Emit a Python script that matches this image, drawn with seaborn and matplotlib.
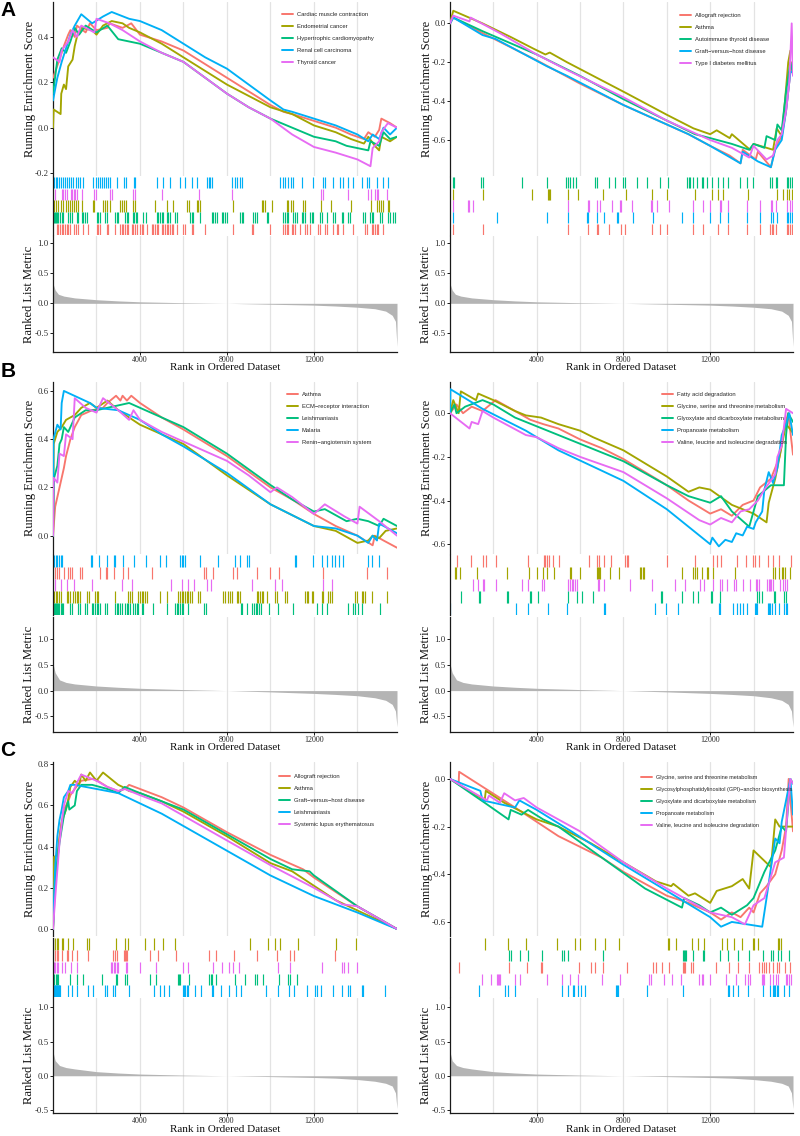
import numpy as np
import pandas as pd
import matplotlib
matplotlib.use("Agg")
import matplotlib.pyplot as plt
from matplotlib.lines import Line2D
import seaborn as sns

sns.set_theme(style="white")
plt.rcParams["font.family"] = ["Liberation Serif", "DejaVu Serif"]

# ------------------------------------------------------------------ data
N_RANK = 15820
PALETTE = ["#F8766D", "#A3A500", "#00BF7D", "#00B0F6", "#E76BF3"]
GRID_TICKS = [2000, 4000, 6000, 8000, 10000, 12000, 14000]
X_TICKS = [4000, 8000, 12000]
X_TICK_LABELS = ["4000", "8000", "12000"]
RANK_TICKS = [-0.5, 0.0, 0.5, 1.0]

# ---- ranked list metrics (rank, value)
metric_A = [(0, 0.33), (100, 0.22), (250, 0.15), (500, 0.12), (1000, 0.09), (2000, 0.06), (3000, 0.04),
            (4000, 0.025), (6000, 0.01), (8000, 0.0), (10000, -0.015), (12000, -0.03), (13000, -0.045),
            (14000, -0.065), (14800, -0.09), (15300, -0.13), (15600, -0.2), (15750, -0.3), (15820, -0.72)]
metric_B = [(0, 0.53), (100, 0.35), (300, 0.21), (600, 0.16), (1000, 0.13), (2000, 0.09), (3000, 0.065),
            (4000, 0.045), (6000, 0.02), (8000, 0.0), (10000, -0.025), (12000, -0.055), (13000, -0.075),
            (14000, -0.10), (14800, -0.14), (15300, -0.19), (15600, -0.27), (15750, -0.4), (15820, -0.71)]
metric_C = [(0, 0.35), (100, 0.22), (300, 0.15), (600, 0.12), (1000, 0.10), (2000, 0.06), (3000, 0.04),
            (4000, 0.025), (6000, 0.01), (8000, 0.0), (10000, -0.012), (12000, -0.025), (13000, -0.035),
            (14000, -0.055), (14800, -0.08), (15300, -0.11), (15600, -0.15), (15750, -0.25), (15820, -0.48)]

# ---- Panel A left
A1_sets = ["Cardiac muscle contraction", "Endometrial cancer", "Hypertrophic cardiomyopathy",
           "Renal cell carcinoma", "Thyroid cancer"]
A1_es_cardiac = [(0, 0.22), (300, 0.30), (500, 0.36), (700, 0.41), (800, 0.43), (1000, 0.40), (1100, 0.45),
                 (1500, 0.42), (1700, 0.46), (2000, 0.43), (2500, 0.44), (2600, 0.46), (3200, 0.44), (3600, 0.46),
                 (4000, 0.41), (5000, 0.38), (6000, 0.34), (7000, 0.28), (8000, 0.22), (9000, 0.16), (10000, 0.10),
                 (10600, 0.07), (11000, 0.06), (12000, 0.03), (13000, 0.0), (13700, -0.03), (14300, -0.05),
                 (14500, -0.02), (14800, -0.04), (15000, -0.01), (15100, 0.04), (15500, 0.02), (15820, 0.0)]
A1_es_endometrial = [(0, 0.0), (30, 0.08), (350, 0.06), (380, 0.15), (500, 0.19), (600, 0.17), (700, 0.27),
                     (900, 0.30), (1000, 0.36), (1100, 0.40), (1300, 0.44), (1800, 0.43), (2000, 0.41),
                     (2300, 0.45), (2700, 0.47), (3200, 0.46), (3500, 0.44), (4000, 0.42), (5000, 0.37),
                     (6000, 0.31), (7000, 0.25), (8000, 0.19), (9000, 0.14), (10000, 0.09), (11000, 0.06),
                     (12000, 0.01), (13000, -0.02), (13700, -0.05), (14300, -0.07), (14500, -0.04), (14800, -0.08),
                     (15000, -0.10), (15100, -0.04), (15500, -0.06), (15820, -0.04)]
A1_es_hypertrophic = [(0, 0.15), (200, 0.30), (400, 0.35), (600, 0.33), (800, 0.38), (1000, 0.44), (1200, 0.41),
                      (1500, 0.45), (2000, 0.42), (2500, 0.45), (3000, 0.39), (4000, 0.37), (5000, 0.33),
                      (6000, 0.29), (7000, 0.22), (8000, 0.15), (9000, 0.09), (10000, 0.04), (11000, 0.0),
                      (12000, -0.04), (13000, -0.06), (13500, -0.08), (14000, -0.09), (14500, -0.10), (14600, -0.06),
                      (15000, -0.08), (15200, -0.02), (15500, -0.05), (15820, -0.04)]
A1_es_renal = [(0, 0.12), (200, 0.22), (400, 0.29), (600, 0.35), (800, 0.41), (1000, 0.45), (1300, 0.50),
               (1800, 0.46), (2300, 0.49), (2700, 0.51), (3500, 0.48), (4000, 0.47), (5000, 0.43), (6000, 0.37),
               (7000, 0.31), (8000, 0.26), (9000, 0.19), (10000, 0.12), (10600, 0.08), (11000, 0.07),
               (12000, 0.04), (13000, 0.01), (14000, -0.03), (14500, -0.06), (14700, -0.03), (15000, -0.05),
               (15200, 0.0), (15500, -0.03), (15820, 0.0)]
A1_es_thyroid = [(0, 0.31), (300, 0.29), (400, 0.34), (700, 0.38), (900, 0.43), (1100, 0.40), (1300, 0.45),
                 (1900, 0.42), (2000, 0.48), (2600, 0.46), (3200, 0.43), (4000, 0.38), (5000, 0.33), (6000, 0.29),
                 (7000, 0.22), (8000, 0.15), (9000, 0.09), (10000, 0.04), (11000, -0.03), (12000, -0.085),
                 (13000, -0.11), (14000, -0.14), (14600, -0.17), (14700, -0.09), (15000, -0.06), (15100, -0.02),
                 (15400, 0.02), (15820, 0.0)]
A1_hits_cardiac = [169, 245, 322, 399, 475, 552, 629, 705, 782, 966, 1058, 1165, 1395, 1625, 2008, 2085, 2162,
                   2499, 2545, 2851, 3081, 3158, 3235, 3311, 3388, 3464, 3618, 3694, 3771, 3848, 4001, 4077, 4154,
                   4307, 4537, 4614, 4691, 4768, 4844, 4998, 5074, 5151, 5227, 5304, 5381, 5457, 5534, 5687, 5994,
                   6071, 6377, 6454, 6990, 8294, 9137, 9213, 9980, 10593, 10670, 10746, 10823, 10976, 11053,
                   11130, 11360, 11589, 11666, 11819, 12202, 12279, 12509, 12586, 12893, 13046, 13123, 13352,
                   13812, 14349, 14425, 14655, 14732, 14808, 14885, 14962, 15192]
A1_hits_endometrial = [46, 123, 245, 352, 475, 598, 706, 782, 859, 966, 1058, 1165, 1318, 1855, 1901, 2315, 2391,
                       2498, 2621, 3081, 3158, 3265, 3357, 3694, 3771, 4691, 5227, 5534, 6147, 6254, 6607, 6684,
                       6760, 8294, 9597, 9673, 9750, 10057, 10746, 10823, 10930, 11053, 11513, 11589, 12325,
                       12785, 13705, 14625, 14900, 14977, 15084, 15161, 15391, 15467]
A1_hits_hypertrophic = [46, 92, 138, 199, 245, 322, 399, 475, 705, 782, 858, 1088, 1165, 1318, 1395, 1472, 1579,
                        2008, 2085, 2162, 2391, 2468, 2851, 2928, 3005, 3311, 3388, 3464, 3694, 3740, 3802, 3848,
                        4154, 4277, 4768, 4844, 4921, 4998, 5074, 5227, 5304, 5381, 5611, 5687, 6300, 6377, 6454,
                        6760, 7297, 7374, 7450, 7527, 7757, 7833, 7910, 7987, 8600, 8677, 8753, 9213, 9290, 9367,
                        9826, 9903, 10593, 10670, 10746, 10823, 11053, 11130, 11206, 11436, 11513, 11589, 11819,
                        11896, 11972, 12279, 12356, 12586, 12893, 12969, 13276, 13352, 13582, 13659, 14272, 14349,
                        14579, 14655, 14732, 15039, 15115, 15422, 15498, 15651, 15728]
A1_hits_renal = [46, 123, 199, 291, 368, 445, 552, 629, 736, 828, 935, 1058, 1165, 1242, 1395, 1855, 1978, 2085,
                 2162, 2238, 2346, 2437, 2545, 2622, 2928, 3265, 3357, 3725, 3771, 4768, 5074, 5380, 5841, 6071,
                 6377, 6638, 7098, 7159, 7220, 7312, 8248, 8371, 8478, 8601, 8708, 10440, 10562, 10685, 10792,
                 10930, 11053, 11436, 11973, 12402, 12509, 12862, 13199, 13322, 13582, 13812, 14196, 14425,
                 14548, 14885, 15161, 15422]
A1_hits_thyroid = [92, 399, 475, 552, 629, 813, 859, 966, 1012, 1089, 1318, 1886, 1978, 2621, 2698, 3694, 3771,
                   4998, 6714, 8248, 12310, 12402, 13582, 14502, 14609, 14808, 14885, 14962, 15345]

# ---- Panel A right
A2_sets = ["Allograft rejection", "Asthma", "Autoimmune thyroid disease", "Graft\u2212versus\u2212host disease",
           "Type I diabetes mellitus"]
A2_es_allograft = [(0, 0.0), (150, 0.03), (1500, -0.05), (4000, -0.19), (6000, -0.31), (8000, -0.42),
                   (10000, -0.52), (11000, -0.57), (12000, -0.63), (12900, -0.68), (13400, -0.72), (13500, -0.65),
                   (14100, -0.70), (14200, -0.66), (14800, -0.74), (15000, -0.64), (15300, -0.58), (15500, -0.45),
                   (15650, -0.30), (15750, -0.20), (15820, -0.23)]
A2_es_asthma = [(0, 0.0), (150, 0.065), (1500, 0.0), (2800, -0.07), (3850, -0.13), (4400, -0.16), (4600, -0.15),
                (5400, -0.20), (8150, -0.36), (10000, -0.47), (11230, -0.54), (12000, -0.57), (12300, -0.55),
                (12900, -0.59), (13000, -0.57), (13840, -0.65), (14000, -0.62), (14900, -0.65), (15070, -0.54),
                (15300, -0.58), (15450, -0.40), (15600, -0.20), (15700, -0.14)]
A2_es_autoimmune = [(0, 0.0), (150, 0.03), (1500, -0.04), (4000, -0.16), (6000, -0.27), (8000, -0.39),
                    (10000, -0.50), (11300, -0.57), (12000, -0.59), (13000, -0.62), (13800, -0.65), (14000, -0.62),
                    (14500, -0.64), (14600, -0.58), (15000, -0.60), (15100, -0.52), (15300, -0.55), (15500, -0.35),
                    (15700, -0.20), (15820, -0.26)]
A2_es_gvhd = [(0, 0.0), (150, 0.03), (1500, -0.06), (2100, -0.08), (4460, -0.22), (5400, -0.27), (8000, -0.42),
              (10000, -0.52), (11000, -0.57), (12000, -0.63), (13400, -0.72), (13500, -0.66), (14200, -0.71),
              (14800, -0.74), (15000, -0.65), (15300, -0.60), (15500, -0.45), (15700, -0.25), (15820, -0.25)]
A2_es_diabetes = [(0, 0.0), (150, 0.04), (900, 0.01), (950, 0.03), (2300, -0.05), (4000, -0.16), (5400, -0.24),
                  (8000, -0.38), (10000, -0.50), (12000, -0.60), (13000, -0.64), (13800, -0.69), (14000, -0.63),
                  (14600, -0.70), (14900, -0.68), (15100, -0.60), (15300, -0.57), (15500, -0.45), (15650, -0.30),
                  (15760, 0.0), (15820, -0.27)]
A2_hits_allograft = [154, 1507, 5460, 6352, 6767, 6844, 7352, 7875, 8075, 9305, 9689, 9997, 11227, 11689, 12381,
                     12842, 13719, 14303, 14765, 14842, 14919, 15042, 15534, 15611, 15688, 15765]
A2_hits_asthma = [154, 1507, 3768, 4506, 4568, 4614, 5460, 5921, 7044, 8121, 9305, 9997, 11305, 12104, 12381,
                  12612, 13765, 15073, 15380, 15534, 15657, 15765]
A2_hits_autoimmune = [154, 200, 1430, 1507, 3307, 4460, 5337, 5430, 5537, 5691, 5798, 6690, 6767, 7352, 7613,
                      7998, 8075, 8644, 9074, 9689, 10074, 10951, 11012, 11074, 11227, 11412, 11612, 11689, 11843,
                      12073, 12381, 12581, 12842, 13381, 13688, 13965, 14765, 14842, 15042, 15104, 15534, 15611,
                      15688, 15765, 15800]
A2_hits_gvhd = [154, 2184, 4460, 5460, 6306, 6352, 6767, 7121, 7690, 7767, 8428, 9382, 10689, 11227, 11996,
                12458, 12842, 13688, 14303, 14796, 14888, 15073, 15534, 15611, 15688, 15765]
A2_hits_diabetes = [154, 846, 892, 1046, 5460, 6352, 6398, 6767, 6921, 7490, 7844, 7890, 8382, 9259, 9305, 9536,
                    10120, 11227, 11689, 11996, 12458, 12504, 12842, 13719, 14303, 14796, 14842, 15042, 15534,
                    15688, 15765]

# ---- Panel B left
B1_sets = ["Asthma", "ECM\u2212receptor interaction", "Leishmaniasis", "Malaria", "Renin\u2212angiotensin system"]
B1_es_asthma = [(0, 0.0), (100, 0.12), (300, 0.20), (500, 0.28), (600, 0.33), (800, 0.40), (1000, 0.45),
                (1300, 0.50), (1800, 0.52), (2300, 0.53), (2500, 0.55), (2900, 0.58), (3100, 0.56), (3200, 0.58),
                (3400, 0.56), (3600, 0.58), (4000, 0.55), (5000, 0.49), (6000, 0.44), (8000, 0.33), (10000, 0.20),
                (11000, 0.15), (12000, 0.09), (13000, 0.04), (14000, 0.0), (14700, -0.04), (14800, 0.0),
                (15200, -0.02), (15820, -0.05)]
B1_es_ecm = [(0, 0.0), (30, 0.38), (200, 0.43), (400, 0.45), (600, 0.48), (1000, 0.50), (1300, 0.53),
             (1700, 0.55), (2000, 0.53), (2500, 0.56), (3000, 0.52), (3500, 0.49), (4000, 0.46), (5000, 0.42),
             (6000, 0.38), (8000, 0.25), (10000, 0.13), (12000, 0.04), (13000, 0.02), (14000, -0.03),
             (14500, -0.02), (14700, 0.0), (15000, -0.01), (15300, 0.02), (15820, 0.03)]
B1_es_leish = [(0, 0.0), (50, 0.24), (200, 0.29), (300, 0.38), (400, 0.40), (500, 0.45), (700, 0.43),
               (1000, 0.49), (1500, 0.52), (2000, 0.52), (2500, 0.53), (3000, 0.54), (3500, 0.55), (4000, 0.53),
               (5000, 0.49), (6000, 0.45), (8000, 0.34), (10000, 0.21), (11000, 0.15), (12000, 0.10),
               (12500, 0.11), (13500, 0.06), (14000, 0.07), (14500, 0.06), (15000, 0.04), (15200, 0.07),
               (15820, 0.04)]
B1_es_malaria = [(0, 0.0), (20, 0.40), (200, 0.46), (350, 0.44), (400, 0.55), (500, 0.60), (1700, 0.55),
                 (2000, 0.53), (3000, 0.52), (4000, 0.48), (5000, 0.42), (6000, 0.37), (8000, 0.26), (10000, 0.13),
                 (12000, 0.04), (13000, 0.03), (14000, 0.0), (14500, -0.03), (14700, 0.0), (14900, -0.02),
                 (15000, 0.05), (15820, 0.01)]
B1_es_renin = [(0, 0.0), (30, 0.24), (200, 0.22), (300, 0.34), (500, 0.33), (600, 0.42), (900, 0.40),
               (1000, 0.57), (1500, 0.53), (2000, 0.51), (2300, 0.57), (3000, 0.52), (3500, 0.48), (3700, 0.52),
               (4000, 0.48), (5000, 0.43), (6000, 0.39), (8000, 0.31), (9000, 0.25), (10000, 0.18), (10300, 0.20),
               (11000, 0.16), (12000, 0.09), (12500, 0.13), (13400, 0.08), (14000, 0.05), (14100, 0.12),
               (15000, 0.06), (15820, 0.0)]
B1_hits_asthma = [92, 169, 291, 521, 705, 782, 858, 1242, 1318, 2162, 2437, 2499, 2805, 3235, 3464, 4537, 6944,
                  7021, 7374, 8263, 8447, 9367, 9980, 10409, 12433, 14425, 15345]
B1_hits_ecm = [46, 123, 199, 276, 353, 629, 705, 782, 905, 1012, 1088, 1165, 1242, 1579, 1671, 1932, 2008, 2085,
               2851, 3464, 3541, 3618, 3925, 4001, 4077, 4154, 4231, 4307, 4921, 5227, 5764, 5840, 5917, 5994,
               6071, 6147, 6224, 6300, 6377, 6684, 6760, 7834, 7910, 8064, 8140, 8217, 8447, 8523, 8600, 9367,
               9443, 9520, 9597, 9673, 9826, 10210, 10286, 10670, 10746, 11589, 11666, 11742, 11896, 11972,
               12356, 12433, 12663, 12739, 12816, 13889, 13965, 14196, 14272, 14349, 14655, 15345]
B1_hits_leish = [46, 92, 138, 199, 245, 291, 353, 399, 445, 782, 858, 1165, 1242, 1472, 1548, 1779, 1855, 1932,
                 2008, 2085, 2162, 2391, 2468, 2851, 2928, 3005, 3081, 3158, 3311, 3388, 3464, 3541, 3694, 3771,
                 3848, 3925, 4077, 4154, 4583, 5227, 5611, 5687, 5764, 5840, 5917, 5994, 6224, 6944, 7021, 8631,
                 8707, 8937, 9167, 9244, 9321, 9397, 9474, 9551, 9949, 10363, 11022, 12126, 12356, 12586, 13582,
                 13812, 13889, 14042, 14196, 15039]
B1_hits_malaria = [15, 61, 123, 199, 276, 353, 429, 1732, 1809, 2131, 2468, 2805, 2851, 3235, 3741, 4277, 4921,
                   5181, 5840, 5917, 5994, 6071, 6760, 7603, 8370, 8600, 8937, 9014, 11114, 11191, 11972, 12356,
                   12586, 12816, 12969, 13169, 13352, 14502, 14655, 15008]
B1_hits_renin = [92, 353, 629, 966, 1779, 3158, 3618, 5411, 5917, 6224, 6484, 7067, 7251, 9137, 10210, 10516,
                 12433, 12816]

# ---- Panel B right
B2_sets = ["Fatty acid degradation", "Glycine, serine and threonine metabolism",
           "Glyoxylate and dicarboxylate metabolism", "Propanoate metabolism",
           "Valine, leucine and isoleucine degradation"]
B2_es_fatty = [(0, 0.0), (300, 0.04), (600, 0.0), (1000, 0.03), (1500, 0.01), (2100, 0.06), (3000, 0.01),
               (3700, -0.03), (4300, -0.05), (5000, -0.07), (6000, -0.12), (7000, -0.16), (8000, -0.21),
               (9000, -0.27), (10000, -0.33), (11000, -0.40), (12000, -0.46), (12500, -0.44), (13000, -0.47),
               (13500, -0.42), (14000, -0.40), (14300, -0.34), (14800, -0.30), (15000, -0.25), (15200, -0.20),
               (15450, -0.05), (15600, 0.0), (15820, -0.19)]
B2_es_glycine = [(0, 0.0), (150, 0.06), (400, 0.0), (500, 0.10), (1200, 0.06), (1300, 0.09), (2000, 0.06),
                 (3000, 0.01), (3500, -0.01), (4200, -0.02), (5000, -0.05), (6000, -0.08), (6600, -0.11),
                 (8000, -0.17), (10000, -0.29), (11000, -0.36), (11500, -0.34), (12000, -0.35), (13000, -0.42),
                 (14000, -0.46), (14600, -0.50), (14700, -0.41), (15000, -0.30), (15300, -0.15), (15500, -0.05),
                 (15820, -0.09)]
B2_es_glyoxylate = [(0, 0.0), (200, 0.04), (300, 0.0), (700, 0.03), (1500, 0.06), (2000, 0.04), (3000, -0.02),
                    (4000, -0.06), (5000, -0.10), (6000, -0.14), (8000, -0.22), (10000, -0.33), (11000, -0.38),
                    (12000, -0.41), (12500, -0.38), (13000, -0.45), (13800, -0.52), (14000, -0.45), (14200, -0.38),
                    (14800, -0.33), (15400, -0.33), (15500, -0.10), (15600, 0.0), (15820, -0.04)]
B2_es_propanoate = [(0, 0.0), (20, 0.11), (1500, 0.02), (3500, -0.08), (5000, -0.17), (8000, -0.31),
                    (10000, -0.44), (12000, -0.60), (12100, -0.57), (12400, -0.61), (12700, -0.58), (13000, -0.59),
                    (13200, -0.55), (13500, -0.56), (13700, -0.52), (14000, -0.53), (14100, -0.50), (14400, -0.45),
                    (14500, -0.35), (14700, -0.27), (14900, -0.32), (15100, -0.25), (15300, -0.10), (15500, -0.05),
                    (15650, 0.0), (15820, -0.10)]
B2_es_valine = [(0, 0.0), (900, -0.07), (1000, -0.04), (1300, -0.05), (1500, 0.01), (2000, -0.02), (3500, -0.10),
                (4000, -0.11), (5000, -0.16), (6000, -0.20), (8000, -0.27), (10000, -0.39), (11500, -0.49),
                (12000, -0.51), (12500, -0.48), (13000, -0.50), (13400, -0.45), (13800, -0.44), (14200, -0.40),
                (14500, -0.35), (15000, -0.28), (15100, -0.20), (15300, -0.15), (15500, 0.02), (15820, 0.0)]
B2_hits_fatty = [338, 969, 1538, 1661, 2122, 3614, 4337, 4399, 4460, 4568, 4737, 5045, 6429, 6767, 6890, 7106,
                 7413, 8075, 8152, 8228, 10028, 11304, 12120, 12304, 12489, 13227, 13658, 13996, 14073, 14273,
                 14688, 14919, 15196, 15719]
B2_hits_glycine = [231, 277, 461, 1230, 2615, 3660, 3999, 4276, 4491, 4814, 5537, 5583, 5998, 6767, 6813, 6859,
                   6905, 7382, 7813, 8767, 8828, 8890, 8951, 10689, 11227, 11304, 11381, 11612, 11843, 11920,
                   12150, 13150, 14919, 14996, 15180, 15303, 15380, 15457, 15688]
B2_hits_glyoxylate = [492, 1338, 1384, 2615, 2661, 3691, 3737, 4045, 5460, 5845, 6075, 6583, 9720, 9797, 10689,
                      11197, 11458, 12027, 12073, 12458, 14181, 14258, 14381, 14950, 15011, 15411, 15503]
B2_hits_propanoate = [10, 3045, 3614, 4506, 5414, 7106, 7152, 9459, 9966, 10535, 12427, 12474, 13073, 13258,
                      13381, 13535, 13720, 14073, 14119, 14181, 14657, 14719, 14780, 14842, 14996, 15196, 15411,
                      15503, 15565]
B2_hits_valine = [1077, 1307, 1538, 1584, 2122, 3307, 3614, 4230, 4337, 5460, 5537, 5614, 5691, 5768, 5845,
                  6813, 6875, 7106, 8305, 9305, 10382, 10843, 11535, 11720, 12120, 12458, 12535, 12796, 13104,
                  13181, 13535, 13842, 14119, 14181, 14242, 14642, 14704, 14765, 14827, 14919, 15227, 15380,
                  15457, 15534]

# ---- Panel C left
C1_sets = ["Allograft rejection", "Asthma", "Graft\u2212versus\u2212host disease", "Leishmaniasis",
           "Systemic lupus erythematosus"]
C1_es_allograft = [(0, 0.0), (100, 0.20), (300, 0.45), (500, 0.58), (700, 0.62), (800, 0.65), (1000, 0.68),
                   (1300, 0.72), (1900, 0.73), (2500, 0.69), (3000, 0.67), (3300, 0.68), (3500, 0.70), (5000, 0.64),
                   (6000, 0.59), (8000, 0.47), (10000, 0.36), (11500, 0.29), (12000, 0.25), (14000, 0.11),
                   (15820, 0.0)]
C1_es_asthma = [(0, 0.0), (50, 0.35), (200, 0.36), (400, 0.52), (600, 0.58), (700, 0.63), (800, 0.69),
                (1000, 0.72), (1200, 0.70), (1300, 0.75), (1500, 0.72), (1700, 0.76), (2000, 0.72), (2300, 0.76),
                (3000, 0.70), (3200, 0.69), (3500, 0.67), (4000, 0.66), (5000, 0.62), (6000, 0.57), (8000, 0.45),
                (10000, 0.32), (11000, 0.28), (12000, 0.21), (13000, 0.14), (14000, 0.09), (15820, 0.0)]
C1_es_gvhd = [(0, 0.0), (100, 0.25), (300, 0.42), (500, 0.55), (700, 0.62), (750, 0.58), (1000, 0.60),
              (1100, 0.67), (1300, 0.70), (1800, 0.70), (2500, 0.68), (3000, 0.66), (3300, 0.69), (4000, 0.66),
              (6000, 0.58), (8000, 0.46), (10000, 0.34), (11000, 0.29), (11800, 0.28), (12000, 0.26),
              (14000, 0.11), (15820, 0.0)]
C1_es_leish = [(0, 0.0), (100, 0.30), (200, 0.45), (300, 0.53), (400, 0.58), (500, 0.64), (700, 0.67),
               (800, 0.70), (1000, 0.70), (1500, 0.69), (2000, 0.68), (3000, 0.66), (4000, 0.61), (5000, 0.56),
               (6000, 0.50), (8000, 0.38), (10000, 0.26), (12000, 0.16), (13000, 0.12), (14000, 0.08),
               (15350, 0.02), (15820, 0.0)]
C1_es_sle = [(0, 0.0), (100, 0.15), (300, 0.42), (500, 0.60), (700, 0.67), (900, 0.66), (1100, 0.71),
             (1300, 0.75), (2000, 0.72), (2500, 0.69), (3000, 0.67), (3300, 0.68), (4000, 0.65), (5000, 0.61),
             (6000, 0.55), (8000, 0.43), (10000, 0.31), (12000, 0.20), (13000, 0.14), (13300, 0.12),
             (14000, 0.11), (15820, 0.0)]
C1_hits_allograft = [15, 92, 169, 245, 399, 629, 705, 858, 1088, 1625, 2775, 2851, 2928, 3265, 3311, 3357, 3418,
                     4461, 4844, 5641, 7174, 7481, 8340, 9367, 10317, 10900, 11083, 12969]
C1_hits_asthma = [5, 15, 92, 169, 245, 399, 475, 705, 905, 1579, 1671, 2897, 3311, 3464, 4231, 4660, 5043,
                  5611, 9060, 9873, 10210, 10440, 11283, 13000, 13919]
C1_hits_gvhd = [15, 61, 123, 184, 245, 782, 1088, 1395, 2269, 2897, 2959, 3311, 3388, 4461, 4721, 5733, 5795,
                5856, 6270, 7174, 7251, 7328, 7496, 8370, 8830, 9290, 9367, 9673, 10394, 10823, 10900, 11206]
C1_hits_leish = [15, 46, 77, 107, 138, 169, 199, 230, 261, 291, 322, 705, 858, 1119, 1625, 1825, 2391, 2468,
                 2775, 2851, 3510, 4660, 4921, 5120, 5350, 5994, 6040, 6086, 6147, 6193, 6531, 6791, 7328, 7374,
                 7711, 8110, 8401, 8646, 9781, 10333, 10854, 11099, 11666, 12049, 12126, 12325, 12893, 13276,
                 13582, 13659, 14196, 14272, 15269]
C1_hits_sle = [15, 61, 107, 169, 245, 399, 552, 812, 1088, 2667, 2729, 2790, 2851, 2928, 3005, 3357, 3418, 4001,
               4737, 5963, 6224, 7374, 7788, 8110, 8263, 8570, 10363, 10900, 12356, 13306, 13383, 13582, 13996]

# ---- Panel C right
C2_sets = ["Glycine, serine and threonine metabolism",
           "Glycosylphosphatidylinositol (GPI)\u2212anchor biosynthesis",
           "Glyoxylate and dicarboxylate metabolism", "Propanoate metabolism",
           "Valine, leucine and isoleucine degradation"]
C2_es_glycine = [(0, 0.0), (400, -0.02), (420, 0.03), (3000, -0.12), (5000, -0.24), (7000, -0.33), (8000, -0.39),
                 (10000, -0.49), (11000, -0.52), (12000, -0.56), (12500, -0.59), (13000, -0.56), (13400, -0.58),
                 (13800, -0.54), (14000, -0.56), (14300, -0.48), (14600, -0.45), (15000, -0.40), (15300, -0.30),
                 (15500, -0.20), (15620, 0.0), (15820, -0.22)]
C2_es_gpi = [(0, 0.0), (1600, -0.09), (1650, -0.05), (2500, -0.10), (4000, -0.17), (5000, -0.20), (6500, -0.27),
             (8000, -0.35), (9500, -0.43), (10200, -0.45), (10300, -0.44), (11000, -0.49), (11300, -0.48),
             (12000, -0.52), (12300, -0.47), (13000, -0.45), (13500, -0.42), (13800, -0.46), (14000, -0.30),
             (14800, -0.37), (15000, -0.17), (15200, -0.20), (15820, -0.20)]
C2_es_glyoxylate = [(0, 0.0), (1600, -0.10), (2700, -0.17), (2800, -0.13), (3300, -0.15), (3600, -0.13),
                    (4300, -0.17), (5000, -0.20), (7000, -0.33), (9000, -0.46), (10700, -0.54), (10800, -0.50),
                    (11500, -0.53), (12000, -0.56), (12500, -0.54), (13000, -0.57), (13700, -0.53), (14000, -0.50),
                    (14500, -0.39), (15000, -0.30), (15300, -0.20), (15500, -0.22), (15700, 0.0), (15820, -0.02)]
C2_es_propanoate = [(0, 0.0), (1400, -0.05), (1500, -0.09), (2000, -0.10), (3000, -0.12), (3200, -0.09),
                    (4000, -0.13), (5600, -0.22), (8000, -0.36), (10000, -0.47), (12000, -0.58), (12500, -0.62),
                    (13000, -0.60), (14400, -0.62), (14600, -0.50), (15000, -0.25), (15200, -0.27), (15300, -0.18),
                    (15700, 0.0), (15820, -0.15)]
C2_es_valine = [(0, 0.0), (1700, -0.09), (1800, -0.07), (2300, -0.10), (2500, -0.06), (3000, -0.09),
                (3400, -0.08), (4000, -0.12), (6000, -0.22), (8000, -0.35), (10000, -0.46), (12000, -0.56),
                (13000, -0.58), (13600, -0.61), (14000, -0.53), (14500, -0.50), (15000, -0.35), (15400, -0.33),
                (15600, -0.10), (15700, 0.0), (15820, -0.02)]
C2_hits_glycine = [415, 2738, 3537, 4184, 4230, 5968, 6490, 6690, 7044, 8182, 9351, 9505, 9766, 10120, 10735,
                   10797, 10858, 11104, 11227, 12258, 12889, 13304, 13796, 14273, 14381, 14488, 14580, 14734,
                   14919, 15073, 15196, 15457, 15688]
C2_hits_gpi = [1615, 2692, 3507, 4952, 5768, 5998, 6690, 7152, 7813, 10043, 10105, 10412, 11150, 11427, 11735,
               12535, 12766, 13119, 13488, 13965, 14027, 14227, 15119, 15180, 15273]
C2_hits_glyoxylate = [2738, 2799, 3230, 3614, 4230, 5183, 5276, 5460, 7075, 10766, 10812, 10858, 10904, 11197,
                      11689, 11735, 12458, 12842, 13304, 13796, 14427, 14796, 14919, 15150, 15257, 15657]
C2_hits_propanoate = [1338, 2538, 2692, 2999, 5183, 5460, 5660, 5721, 5921, 6044, 6229, 7659, 7721, 7767, 9074,
                      10766, 12842, 12889, 13073, 13304, 13765, 14427, 14765, 14888, 14950, 15011, 15073, 15150,
                      15411, 15657]
C2_hits_valine = [1461, 1876, 2153, 2199, 2245, 2307, 2999, 3230, 4460, 5183, 5537, 5921, 7029, 7844, 9197, 9259,
                  9889, 10228, 10658, 11504, 11612, 11689, 11996, 12735, 13181, 13612, 13765, 13827, 14381, 14427,
                  14488, 14765, 14919, 15042, 15150, 15503, 15565, 15627, 15719]

# ------------------------------------------------------------------ layout (pixels)
W, H = 800, 1136
COLS = [(53, 397), (450, 793)]
ROWS = [dict(es=(2, 176), rug=(177, 235), rk=(236, 352)),
        dict(es=(382, 554), rug=(555, 615), rk=(617, 732)),
        dict(es=(762, 936), rug=(938, 997), rk=(998, 1113))]

PANELS = [
    dict(row=0, col=0, sets=A1_sets,
         es=[A1_es_cardiac, A1_es_endometrial, A1_es_hypertrophic, A1_es_renal, A1_es_thyroid],
         hits=[A1_hits_cardiac, A1_hits_endometrial, A1_hits_hypertrophic, A1_hits_renal, A1_hits_thyroid],
         band=[3, 4, 1, 2, 0], metric=metric_A, es_lim=(-0.213, 0.554), es_ticks=[-0.2, 0.0, 0.2, 0.4],
         rk_lim=(-0.81, 1.12), leg=(282, 11.5), leg_size=4.2),
    dict(row=0, col=1, sets=A2_sets,
         es=[A2_es_allograft, A2_es_asthma, A2_es_autoimmune, A2_es_gvhd, A2_es_diabetes],
         hits=[A2_hits_allograft, A2_hits_asthma, A2_hits_autoimmune, A2_hits_gvhd, A2_hits_diabetes],
         band=[2, 1, 4, 3, 0], metric=metric_A, es_lim=(-0.785, 0.11), es_ticks=[-0.6, -0.4, -0.2, 0.0],
         rk_lim=(-0.81, 1.12), leg=(680, 12.5), leg_size=4.2),
    dict(row=1, col=0, sets=B1_sets,
         es=[B1_es_asthma, B1_es_ecm, B1_es_leish, B1_es_malaria, B1_es_renin],
         hits=[B1_hits_asthma, B1_hits_ecm, B1_hits_leish, B1_hits_malaria, B1_hits_renin],
         band=[3, 0, 4, 1, 2], metric=metric_B, es_lim=(-0.076, 0.637), es_ticks=[0.0, 0.2, 0.4, 0.6],
         rk_lim=(-0.81, 1.44), leg=(287, 391.5), leg_size=4.2),
    dict(row=1, col=1, sets=B2_sets,
         es=[B2_es_fatty, B2_es_glycine, B2_es_glyoxylate, B2_es_propanoate, B2_es_valine],
         hits=[B2_hits_fatty, B2_hits_glycine, B2_hits_glyoxylate, B2_hits_propanoate, B2_hits_valine],
         band=[0, 1, 4, 2, 3], metric=metric_B, es_lim=(-0.645, 0.143), es_ticks=[-0.6, -0.4, -0.2, 0.0],
         rk_lim=(-0.81, 1.44), leg=(662, 391.5), leg_size=4.2),
    dict(row=2, col=0, sets=C1_sets,
         es=[C1_es_allograft, C1_es_asthma, C1_es_gvhd, C1_es_leish, C1_es_sle],
         hits=[C1_hits_allograft, C1_hits_asthma, C1_hits_gvhd, C1_hits_leish, C1_hits_sle],
         band=[1, 0, 4, 2, 3], metric=metric_C, es_lim=(-0.034, 0.811), es_ticks=[0.0, 0.2, 0.4, 0.6, 0.8],
         rk_lim=(-0.544, 1.136), leg=(279, 773.5), leg_size=4.2),
    dict(row=2, col=1, sets=C2_sets,
         es=[C2_es_glycine, C2_es_gpi, C2_es_glyoxylate, C2_es_propanoate, C2_es_valine],
         hits=[C2_hits_glycine, C2_hits_gpi, C2_hits_glyoxylate, C2_hits_propanoate, C2_hits_valine],
         band=[1, 2, 0, 4, 3], metric=metric_C, es_lim=(-0.659, 0.071), es_ticks=[-0.6, -0.4, -0.2, 0.0],
         rk_lim=(-0.544, 1.136), leg=(641, 775.0), leg_size=3.95),
]

LETTERS = [("A", 1), ("B", 362), ("C", 741)]

SPINE = "#1a1a1a"
GRID = "#e3e3e3"
TICKTXT = "#2b2b2b"
SANS = ["Liberation Sans", "DejaVu Sans"]

fig = plt.figure(figsize=(W / 100, H / 100), dpi=100)
fig.patch.set_facecolor("white")


def add_ax(x0, x1, ytop, ybot):
    return fig.add_axes([x0 / W, 1 - ybot / H, (x1 - x0) / W, (ybot - ytop) / H])


def style_common(ax):
    ax.set_facecolor("white")
    for s in ax.spines.values():
        s.set_visible(False)
    ax.spines["left"].set_visible(True)
    ax.spines["left"].set_color(SPINE)
    ax.spines["left"].set_linewidth(0.9)
    ax.set_xlim(0, N_RANK)
    ax.set_xlabel("")
    ax.set_ylabel("")


for p in PANELS:
    x0, x1 = COLS[p["col"]]
    rows = ROWS[p["row"]]

    # ---------------- running enrichment score
    ax = add_ax(x0, x1, *rows["es"])
    df = pd.DataFrame([(name, r, v) for name, pts in zip(p["sets"], p["es"]) for r, v in pts],
                      columns=["set", "rank", "es"])
    sns.lineplot(data=df, x="rank", y="es", hue="set", hue_order=p["sets"], palette=PALETTE,
                 sort=False, estimator=None, linewidth=1.35, legend=False, ax=ax, zorder=3)
    style_common(ax)
    ax.set_ylim(*p["es_lim"])
    ax.set_xticks(GRID_TICKS)
    ax.set_xticklabels([])
    ax.tick_params(axis="x", length=0)
    ax.grid(axis="x", color=GRID, linewidth=0.9, zorder=0)
    ax.grid(axis="y", visible=False)
    ax.set_yticks(p["es_ticks"])
    ax.set_yticklabels([f"{v:.1f}" for v in p["es_ticks"]])
    ax.tick_params(axis="y", length=2, width=0.7, color=SPINE, pad=1.2, labelsize=6.3,
                   labelcolor=TICKTXT, left=True)
    handles = [Line2D([0], [0], color=c, lw=1.4) for c in PALETTE]
    lx, ly = p["leg"]
    ax.legend(handles, p["sets"], loc="upper left", bbox_to_anchor=(lx / W, 1 - ly / H),
              bbox_transform=fig.transFigure, frameon=False, prop={"family": SANS, "size": p["leg_size"]},
              handlelength=1.85 * 4.2 / p["leg_size"], handletextpad=0.7,
              labelspacing=1.2 * 4.2 / p["leg_size"], borderpad=0, borderaxespad=0)
    yc = (rows["es"][0] + rows["es"][1]) / 2
    fig.text((x0 - 23) / W, 1 - yc / H, "Running Enrichment Score", rotation=90, ha="center", va="center",
             fontsize=9, color="#111111")

    # ---------------- rug of hits
    axr = add_ax(x0, x1, *rows["rug"])
    style_common(axr)
    axr.set_ylim(0, 5)
    for k, s in enumerate(p["band"]):
        axr.vlines(p["hits"][s], 4 - k + 0.02, 5 - k - 0.02, color=PALETTE[s], linewidth=0.85)
    axr.set_xticks([])
    axr.set_yticks([])
    axr.grid(False)

    # ---------------- ranked list metric
    axk = add_ax(x0, x1, *rows["rk"])
    style_common(axk)
    axk.spines["bottom"].set_visible(True)
    axk.spines["bottom"].set_color(SPINE)
    axk.spines["bottom"].set_linewidth(0.9)
    mx = [m[0] for m in p["metric"]]
    my = [m[1] for m in p["metric"]]
    axk.fill_between(mx, 0, my, color="#b4b4b4", linewidth=0, zorder=2)
    axk.set_ylim(*p["rk_lim"])
    axk.set_xticks(X_TICKS)
    axk.set_xticks([2000, 6000, 10000, 14000], minor=True)
    axk.set_xticklabels(X_TICK_LABELS)
    axk.grid(axis="x", which="both", color=GRID, linewidth=0.9, zorder=0)
    axk.grid(axis="y", visible=False)
    axk.set_yticks(RANK_TICKS)
    axk.set_yticklabels([f"{v:.1f}" for v in RANK_TICKS])
    axk.tick_params(axis="y", length=2, width=0.7, color=SPINE, pad=1.2, labelsize=6.3,
                    labelcolor=TICKTXT, left=True)
    axk.tick_params(axis="x", which="major", length=2, width=0.7, color=SPINE, pad=1.2, labelsize=5.8,
                    labelcolor=TICKTXT, bottom=True)
    axk.tick_params(axis="x", which="minor", length=0)
    yc = (rows["rk"][0] + rows["rk"][1]) / 2
    fig.text((x0 - 24) / W, 1 - yc / H, "Ranked List Metric", rotation=90, ha="center", va="center",
             fontsize=9, color="#111111")
    fig.text(((x0 + x1) / 2) / W, 1 - (rows["rk"][1] + 16) / H, "Rank in Ordered Dataset", ha="center",
             va="center", fontsize=8, color="#111111")

for letter, ytop in LETTERS:
    fig.text(0.5 / W, 1 - ytop / H, letter, ha="left", va="top", fontsize=15, fontweight="bold",
             family=SANS, color="black")

fig.savefig("out.png", dpi=100, facecolor="white")
